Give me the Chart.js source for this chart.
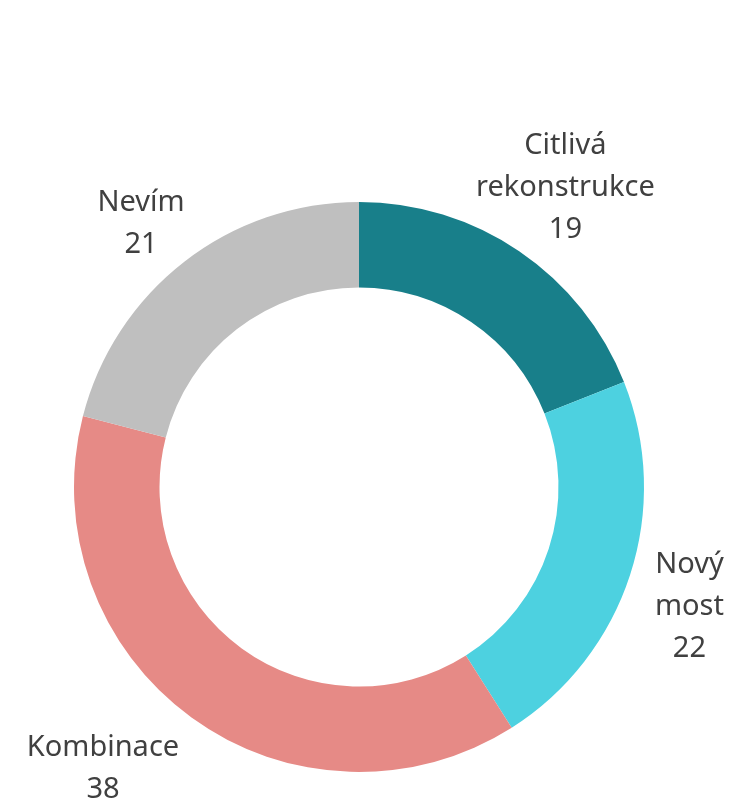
<!DOCTYPE html>
<html>
<head>
<meta charset="utf-8">
<script src="https://cdn.jsdelivr.net/npm/chart.js@4"></script>
<style>
  html, body { margin: 0; padding: 0; background: #fff; }
  #wrap { width: 741px; height: 805px; position: relative; }
</style>
</head>
<body>
<div id="wrap"><canvas id="donut"></canvas></div>
<script>
// chart data
const labels = ["Citlivá rekonstrukce", "Nový most", "Kombinace", "Nevím"];
const labelLines = [["Citlivá", "rekonstrukce"], ["Nový", "most"], ["Kombinace"], ["Nevím"]];
const values = [19, 22, 38, 21];
const colors = ["#187f8a", "#4dd1e0", "#e68a86", "#bfbfbf"];

const FONT = "29px 'Noto Sans', sans-serif";
const LINE_H = 42;

// distance from the doughnut centre to the nearest point of a box
function boxDist(px, py, x0, y0, x1, y1) {
  const nx = Math.max(x0, Math.min(px, x1));
  const ny = Math.max(y0, Math.min(py, y1));
  return Math.hypot(nx - px, ny - py);
}

// draws the "name / value" labels outside each slice
const outsideLabels = {
  id: "outsideLabels",
  afterDraw(chart) {
    const ctx = chart.ctx;
    const meta = chart.getDatasetMeta(0);
    ctx.save();
    ctx.font = FONT;
    ctx.fillStyle = "#404040";
    ctx.textAlign = "center";
    ctx.textBaseline = "middle";
    meta.data.forEach((arc, i) => {
      const p = arc.getProps(["x", "y", "startAngle", "endAngle", "outerRadius"], true);
      const mid = (p.startAngle + p.endAngle) / 2;
      const dx = Math.cos(mid), dy = Math.sin(mid);
      const lines = labelLines[i].concat([String(values[i])]);
      const widths = lines.map(l => ctx.measureText(l).width);
      const w = Math.max(...widths);
      const h = lines.length * LINE_H;
      let cx = p.x + dx * (p.outerRadius + 50 + 0.36 * w / 2);
      const cy = p.y + dy * (p.outerRadius - 2 + 1.37 * h / 2) + 6;
      // push sideways until no line box comes too close to the ring
      const minD = p.outerRadius + 14;
      const dir = dx < 0 ? -1 : 1;
      for (let k = 0; k < 300; k++) {
        let ok = true;
        lines.forEach((l, j) => {
          const ly = cy - h / 2 + j * LINE_H;
          if (boxDist(p.x, p.y, cx - widths[j] / 2, ly, cx + widths[j] / 2, ly + LINE_H) < minD) ok = false;
        });
        if (ok) break;
        cx += dir;
      }
      lines.forEach((l, j) => {
        ctx.fillText(l, cx, cy - h / 2 + LINE_H / 2 + j * LINE_H);
      });
    });
    ctx.restore();
  }
};

new Chart(document.getElementById("donut"), {
  type: "doughnut",
  data: {
    labels: labels,
    datasets: [{
      data: values,
      backgroundColor: colors,
      borderWidth: 0
    }]
  },
  options: {
    responsive: true,
    maintainAspectRatio: false,
    animation: false,
    cutout: "70%",
    layout: { padding: { left: 74, right: 97, top: 202, bottom: 33 } },
    plugins: {
      legend: { display: false },
      tooltip: { enabled: false }
    }
  },
  plugins: [outsideLabels]
});
</script>
</body>
</html>
